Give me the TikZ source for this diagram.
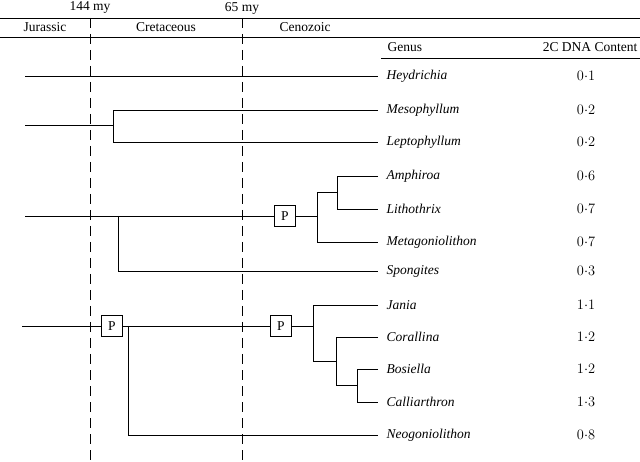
\documentclass[tikz,border=0pt]{standalone}
\usepackage{fontspec}
\setmainfont{Liberation Serif}
\usetikzlibrary{positioning}

\begin{document}
\begin{tikzpicture}[x=1pt, y=-1pt, thick, line width=0.8pt,
    font=\fontsize{13.5}{15}\selectfont,
    pbox/.style = {draw, fill=white, minimum size=21pt, inner sep=0pt},
    genus/.style = {anchor=west, font=\fontsize{13.5}{15}\selectfont\itshape},
    dna/.style = {}]
    \useasboundingbox (0,0) rectangle (640,462);
    % time axis
    \node at (90,8) {144 my};
    \node at (242,8) {65 my};
    \draw (0,18) -- (640,18);
    \draw (0,37) -- (640,37);
    \node at (45,27) {Jurassic};
    \node at (166,27) {Cretaceous};
    \node at (305,27) {Cenozoic};
    \draw[dashed, dash pattern=on 10pt off 6pt] (90,18) -- (90,462);
    \draw[dashed, dash pattern=on 10pt off 6pt] (242,18) -- (242,462);
    \node[anchor=west] at (384,47) {Genus};
    \node[anchor=east] at (641,47) {2C DNA Content};
    \draw (381,58) -- (640,58);

    % leaves
    \foreach \name/\val/\y/\id in {Heydrichia/0{\cdot}1/76/g1, Mesophyllum/0{\cdot}2/110/g2,
        Leptophyllum/0{\cdot}2/142/g3, Amphiroa/0{\cdot}6/176/g4, Lithothrix/0{\cdot}7/209/g5,
        Metagoniolithon/0{\cdot}7/242/g6, Spongites/0{\cdot}3/271/g7, Jania/1{\cdot}1/305/g8,
        Corallina/1{\cdot}2/337/g9, Bosiella/1{\cdot}2/369/g10, Calliarthron/1{\cdot}3/402/g11,
        Neogoniolithon/0{\cdot}8/435/g12} {
        \coordinate (\id) at (378,\y);
        \node[genus] (n\id) at (383,\y) {\name};
        \node[dna] (v\id) at (586,\y) {$\val$};
    }

    \node[pbox] (p1) at (285,216) {P};
    \node[pbox] (p2) at (112,326) {P};
    \node[pbox] (p3) at (281,326) {P};

    % Heydrichia
    \draw (25,76) -- (g1);
    % Mesophyllum + Leptophyllum
    \draw (25,125) -- (113,125);
    \draw (g2) -| (113,142) -- (g3);
    % Amphiroa clade
    \draw (25,216) -- (p1);
    \draw (p1) -- (317,216);
    \draw (g4) -| (337,209) -- (g5);
    \draw (337,192) -| (317,242) -- (g6);
    \draw (118,216) |- (g7);
    % Jania clade
    \draw (22,326) -- (p2);
    \draw (p2) -- (p3);
    \draw (p3) -- (313,326);
    \draw (g10) -| (357,402) -- (g11);
    \draw (g9) -| (336,385) -- (357,385);
    \draw (g8) -| (313,361) -- (336,361);
    \draw (128,326) |- (g12);
\end{tikzpicture}
\end{document}
